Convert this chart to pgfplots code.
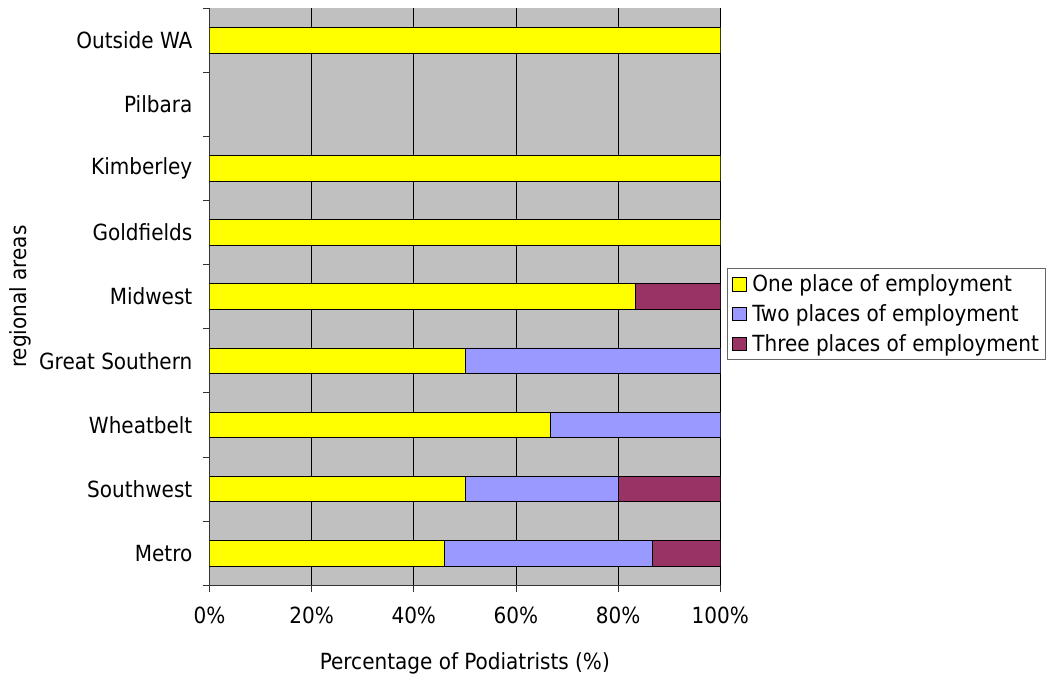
\documentclass[border=0pt]{standalone}
\usepackage{pgfplots}
\pgfplotsset{compat=1.18}
\usepackage{fontspec}
\setmainfont{DejaVu Sans Condensed}
\definecolor{cyel}{RGB}{255,255,0}
\definecolor{cblu}{RGB}{153,153,255}
\definecolor{cmar}{RGB}{153,51,102}
\definecolor{cgry}{RGB}{192,192,192}
\newcommand{\fs}{\fontsize{16.6}{19}\selectfont}
\begin{document}
\begin{tikzpicture}
\begin{axis}[
  scale only axis,
  width=381pt, height=430.5pt,
  xbar stacked,
  bar width=0.4,
  xmin=0, xmax=100,
  ymin=-0.5, ymax=8.5,
  ytick={0,...,8},
  yticklabels={Metro,Southwest,Wheatbelt,Great Southern,Midwest,Goldfields,Kimberley,Pilbara,Outside WA},
  minor ytick={-0.5,0.5,...,8.5},
  major tick length=0pt,
  minor tick length=5pt,
  xtick={0,20,...,100},
  extra x ticks={0,20,40,60,80,100},
  extra x tick labels={},
  extra x tick style={major tick length=5pt, tick align=outside, grid=none},
  xticklabel={\pgfmathprintnumber{\tick}\%},
  /pgf/number format/assume math mode=true,
  tick align=outside,
  xmajorgrids,
  grid style={black, line width=0.6pt},
  axis background/.style={fill=cgry},
  axis x line*=bottom,
  axis y line*=left,
  axis line style={black!80, line width=0.6pt},
  tick style={black!80, line width=0.6pt},
  ticklabel style={font=\fs},
  yticklabel style={xshift=-9.25pt},
  xticklabel style={yshift=-13pt},
  label style={font=\fs},
  xlabel={Percentage of Podiatrists (\%)},
  ylabel={regional areas},
  xlabel style={yshift=-9pt},
  ylabel style={yshift=-1pt},
  legend style={at={(1.0135,0.47)}, anchor=west, draw=black!60, line width=0.6pt,
    font=\fs, row sep=4pt,
    inner xsep=3pt, inner ysep=2.5pt, cells={anchor=west}},
  legend image code/.code={\draw[#1] (-1pt,-5pt) rectangle (9.5pt,5pt); \path (12pt,0pt);},
  legend cell align=left,
]
\addplot[fill=cyel, draw=black, line width=0.5pt] coordinates {
 (46,0) (50,1) (66.7,2) (50,3) (83.3,4) (100,5) (100,6) (0,7) (100,8)};
\addplot[fill=cblu, draw=black, line width=0.5pt] coordinates {
 (40.7,0) (30,1) (33.3,2) (50,3) (0,4) (0,5) (0,6) (0,7) (0,8)};
\addplot[fill=cmar, draw=black, line width=0.5pt] coordinates {
 (13.3,0) (20,1) (0,2) (0,3) (16.7,4) (0,5) (0,6) (0,7) (0,8)};
\legend{One place of employment, Two places of employment, Three places of employment}
\end{axis}
\path (current axis.north) ++(0pt,6pt);
\path (current bounding box.west) ++(-4pt,0pt);
\end{tikzpicture}
\end{document}
